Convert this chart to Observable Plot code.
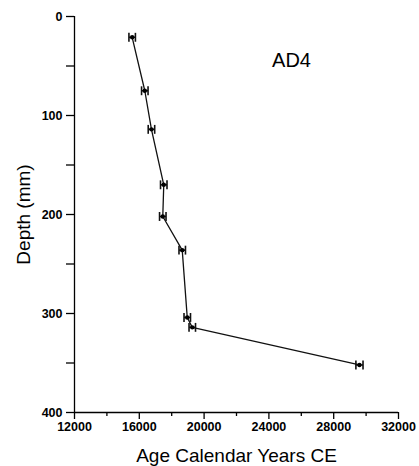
<!DOCTYPE html>
<html>
<head>
<meta charset="utf-8">
<script src="https://cdn.jsdelivr.net/npm/d3@7"></script>
<script src="https://cdn.jsdelivr.net/npm/@observablehq/plot@0.6"></script>
<style>
  html, body { margin: 0; padding: 0; background: #fff; }
  svg { font-family: "Liberation Sans", Arial, sans-serif; }
</style>
</head>
<body>
<div id="chart"></div>
<script>
const ages   = [15560, 16340, 16750, 17510, 17450, 18650, 18960, 19270, 29590];
const depths = [21, 75, 114, 170, 202, 236, 304, 314, 352];
const errors = [200, 200, 200, 200, 200, 200, 200, 200, 220];
const xMajorTicks = [12000, 16000, 20000, 24000, 28000, 32000];
const xMinorTicks = [14000, 18000, 22000, 26000, 30000];
const yMajorTicks = [0, 100, 200, 300, 400];
const yMinorTicks = [50, 150, 250, 350];
const coreLabel = "AD4";
const xLabel = "Age Calendar Years CE";
const yLabel = "Depth (mm)";
const capHalf = 4.5;

const data = ages.map((a, i) => ({age: a, depth: depths[i], err: errors[i]}));

const chart = Plot.plot({
  width: 419,
  height: 466,
  marginLeft: 74,
  marginRight: 21,
  marginTop: 16,
  marginBottom: 54,
  style: {fontFamily: '"Liberation Sans", Arial, sans-serif', color: "#000", background: "#fff"},
  x: {domain: [12000, 32000]},
  y: {domain: [0, 400], reverse: true},
  marks: [
    Plot.ruleX([12000], {y1: 0, y2: 400, stroke: "#000", strokeWidth: 1.3}),
    Plot.ruleY([400], {x1: 12000, x2: 32000, stroke: "#000", strokeWidth: 1.3}),
    Plot.axisY({ticks: yMajorTicks, tickSize: 8, tickPadding: 4, tickFormat: d => String(d),
      fontSize: 12.5, fontWeight: "bold", label: yLabel, labelAnchor: "center", labelArrow: "none", labelOffset: 58,
      strokeWidth: 1.3}),
    Plot.axisY({ticks: yMinorTicks, tickSize: 8, tickFormat: () => "", label: null, strokeWidth: 1.3}),
    Plot.axisX({ticks: xMajorTicks, tickSize: 7, tickPadding: 3, tickFormat: d => String(d),
      fontSize: 12.5, fontWeight: "bold", label: xLabel, labelAnchor: "center", labelArrow: "none", labelOffset: 49,
      strokeWidth: 1.3}),
    Plot.axisX({ticks: xMinorTicks, tickSize: 4, tickFormat: () => "", label: null, strokeWidth: 1.3}),
    Plot.line(data, {x: "age", y: "depth", stroke: "#111", strokeWidth: 1.3}),
    Plot.link(data, {x1: d => d.age - d.err, x2: d => d.age + d.err, y1: "depth", y2: "depth", stroke: "#111", strokeWidth: 1.6}),
    Plot.link(data, {x1: d => d.age - d.err, x2: d => d.age - d.err, y1: d => d.depth - capHalf, y2: d => d.depth + capHalf, stroke: "#111", strokeWidth: 1.6}),
    Plot.link(data, {x1: d => d.age + d.err, x2: d => d.age + d.err, y1: d => d.depth - capHalf, y2: d => d.depth + capHalf, stroke: "#111", strokeWidth: 1.6}),
    Plot.dot(data, {x: "age", y: "depth", r: 2.2, fill: "#000", stroke: "none"}),
    Plot.text([coreLabel], {frameAnchor: "top", dx: 55, dy: 44, text: d => d, fontSize: 20, fill: "#000", lineAnchor: "middle"})
  ]
});
document.getElementById("chart").appendChild(chart);
chart.querySelectorAll("g[aria-label='y-axis label'] text, g[aria-label='x-axis label'] text").forEach(t => {
  t.setAttribute("font-size", "19");
  t.setAttribute("font-weight", "normal");
});
</script>
</body>
</html>
